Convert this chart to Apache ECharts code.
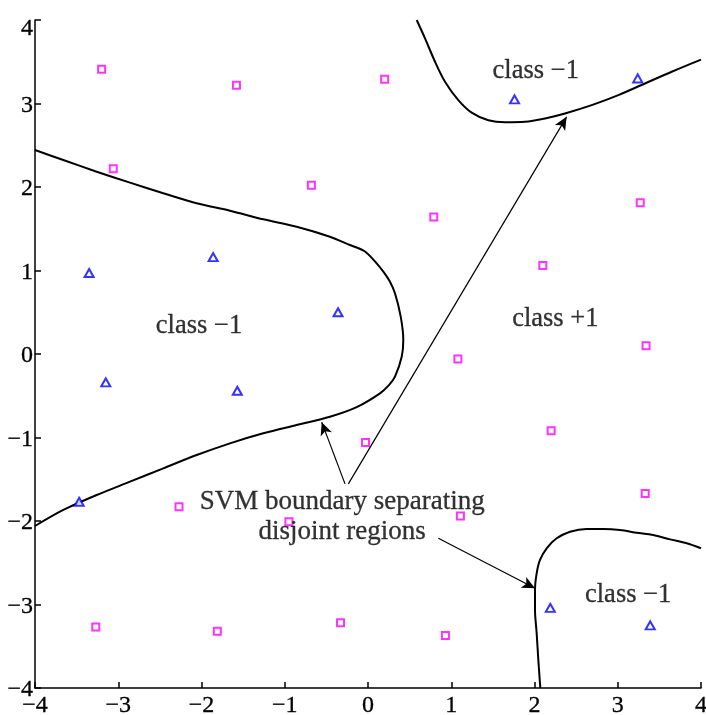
<!DOCTYPE html>
<html>
<head>
<meta charset="utf-8">
<script src="https://cdn.jsdelivr.net/npm/echarts@6/dist/echarts.min.js"></script>
<style>
html,body{margin:0;padding:0;background:#fff;}
#chart{width:706px;height:715px;}
</style>
</head>
<body>
<div id="chart"></div>
<script>
// ---- data ----
const xTicks = [-4, -3, -2, -1, 0, 1, 2, 3, 4];
const yTicks = [-4, -3, -2, -1, 0, 1, 2, 3, 4];

const classPlus = [
  [-3.20, 3.41], [-1.58, 3.22], [0.20, 3.29], [-3.06, 2.22], [-0.68, 2.02],
  [0.79, 1.64], [3.27, 1.81], [2.10, 1.06], [3.34, 0.10], [1.08, -0.06],
  [-0.03, -1.06], [2.20, -0.92], [3.33, -1.67], [-2.27, -1.83], [-0.95, -2.01],
  [1.11, -1.94], [-3.27, -3.27], [-1.81, -3.32], [-0.33, -3.22], [0.93, -3.37]
];
const classMinus = [
  [-3.35, 0.97], [-1.86, 1.16], [-0.36, 0.50], [-3.15, -0.34], [-1.57, -0.44],
  [-3.47, -1.77], [1.76, 3.05], [3.24, 3.30], [2.19, -3.04], [3.39, -3.25]
];

const boundaryLeft = [
  [-4.0, 2.443], [-3.66, 2.323], [-3.259, 2.183], [-2.859, 2.052], [-2.459, 1.925],
  [-2.058, 1.805], [-1.658, 1.716], [-1.258, 1.613], [-0.857, 1.525], [-0.457, 1.405],
  [-0.216, 1.305], [-0.04, 1.23], [0.104, 1.086], [0.184, 0.986], [0.264, 0.866],
  [0.324, 0.727], [0.393, 0.447], [0.424, 0.168], [0.405, -0.032], [0.324, -0.272],
  [0.254, -0.37], [0.144, -0.471], [-0.136, -0.636], [-0.457, -0.751], [-0.857, -0.85],
  [-1.258, -0.95], [-1.658, -1.07], [-2.058, -1.21], [-2.459, -1.369], [-2.859, -1.529],
  [-3.259, -1.689], [-3.66, -1.868], [-4.0, -2.06]
];
const boundaryTop = [
  [0.585, 4.0], [0.685, 3.78], [0.805, 3.50], [0.925, 3.26], [1.085, 3.04],
  [1.245, 2.89], [1.445, 2.80], [1.646, 2.775], [1.886, 2.78], [2.126, 2.82],
  [2.366, 2.88], [2.687, 2.98], [3.007, 3.10], [3.327, 3.24], [3.648, 3.38], [4.0, 3.525]
];
const boundaryBottom = [
  [4.0, -2.327], [3.828, -2.267], [3.628, -2.22], [3.427, -2.168], [3.228, -2.14],
  [3.027, -2.108], [2.827, -2.096], [2.627, -2.096], [2.427, -2.128], [2.266, -2.207],
  [2.146, -2.327], [2.066, -2.467], [2.026, -2.627], [2.006, -2.826], [2.006, -3.066],
  [2.026, -3.345], [2.046, -3.665], [2.07, -4.0]
];

const regionLabels = [
  {name: 'class \u22121', value: [-2.03, 0.34]},
  {name: 'class \u22121', value: [2.015, 3.39]},
  {name: 'class +1', value: [2.25, 0.415]},
  {name: 'class \u22121', value: [3.125, -2.89]}
];
const noteText = {name: 'SVM boundary separating\ndisjoint regions', value: [-0.31, -1.945]};

const arrows = [
  [[-0.276, -1.555], [-0.556, -0.816]],
  [[-0.236, -1.555], [2.386, 2.84]],
  [[0.845, -2.207], [2.006, -2.806]]
];

// ---- chart ----
const chart = echarts.init(document.getElementById('chart'));
const serif = '"Liberation Serif", "Times New Roman", serif';
const fmt = v => String(v).replace('-', '\u2212');

const curveSeries = [boundaryLeft, boundaryTop, boundaryBottom].map(d => ({
  type: 'line',
  data: d,
  showSymbol: false,
  symbol: 'none',
  smooth: 0.3,
  lineStyle: {color: '#000', width: 2},
  clip: true,
  silent: true,
  z: 2
}));

const option = {
  animation: false,
  backgroundColor: '#fff',
  grid: {left: 35, right: 5, top: 20, bottom: 27, containLabel: false, outerBoundsMode: 'none'},
  xAxis: {
    type: 'value', min: -4, max: 4, interval: 1,
    axisLine: {show: true, onZero: false, lineStyle: {color: '#000', width: 1.5}},
    axisTick: {show: true, inside: true, length: 6, lineStyle: {color: '#000', width: 1.5}},
    splitLine: {show: false},
    axisLabel: {color: '#000', fontFamily: serif, fontSize: 24, margin: 6,
      textBorderColor: '#000', textBorderWidth: 0.3, formatter: fmt}
  },
  yAxis: {
    type: 'value', min: -4, max: 4, interval: 1,
    axisLine: {show: true, onZero: false, lineStyle: {color: '#000', width: 1.5}},
    axisTick: {show: true, inside: true, length: 6, lineStyle: {color: '#000', width: 1.5}},
    splitLine: {show: false},
    axisLabel: {
      color: '#000', fontFamily: serif, fontSize: 24, margin: 2,
      padding: [4, 0, 0, 0],
      textBorderColor: '#000', textBorderWidth: 0.3,
      formatter: v => v === 4 ? '{top|4}' : fmt(v),
      rich: {top: {fontFamily: serif, fontSize: 24, color: '#000', padding: [14, 0, 0, 0],
        textBorderColor: '#000', textBorderWidth: 0.3}}
    }
  },
  series: [
    ...curveSeries,
    {
      type: 'scatter',
      data: classPlus,
      symbol: 'rect',
      symbolSize: 7,
      itemStyle: {color: '#fff', borderColor: '#ff00ff', borderWidth: 2},
      z: 3
    },
    {
      type: 'scatter',
      data: classMinus,
      symbol: 'triangle',
      symbolSize: [9, 8],
      itemStyle: {color: '#fff', borderColor: '#0000ff', borderWidth: 2},
      z: 3
    },
    {
      type: 'scatter',
      data: regionLabels,
      symbolSize: 0,
      silent: true,
      label: {
        show: true, position: 'inside', color: '#000',
        fontFamily: serif, fontSize: 26.5,
        textBorderColor: '#000', textBorderWidth: 0.3,
        align: 'center', verticalAlign: 'middle',
        formatter: p => p.name
      },
      z: 4
    },
    {
      type: 'scatter',
      data: [noteText],
      symbolSize: 0,
      silent: true,
      label: {
        show: true, position: 'inside', color: '#000',
        fontFamily: serif, fontSize: 27, lineHeight: 30,
        textBorderColor: '#000', textBorderWidth: 0.3,
        align: 'center', verticalAlign: 'middle',
        formatter: p => p.name
      },
      z: 4,
      markLine: {
        silent: true,
        symbol: ['none', 'arrow'],
        symbolSize: [9, 13],
        label: {show: false},
        lineStyle: {color: '#000', width: 1.2, type: 'solid'},
        emphasis: {disabled: true},
        data: arrows.map(a => [{coord: a[0]}, {coord: a[1]}])
      }
    }
  ]
};
chart.setOption(option);
</script>
</body>
</html>
